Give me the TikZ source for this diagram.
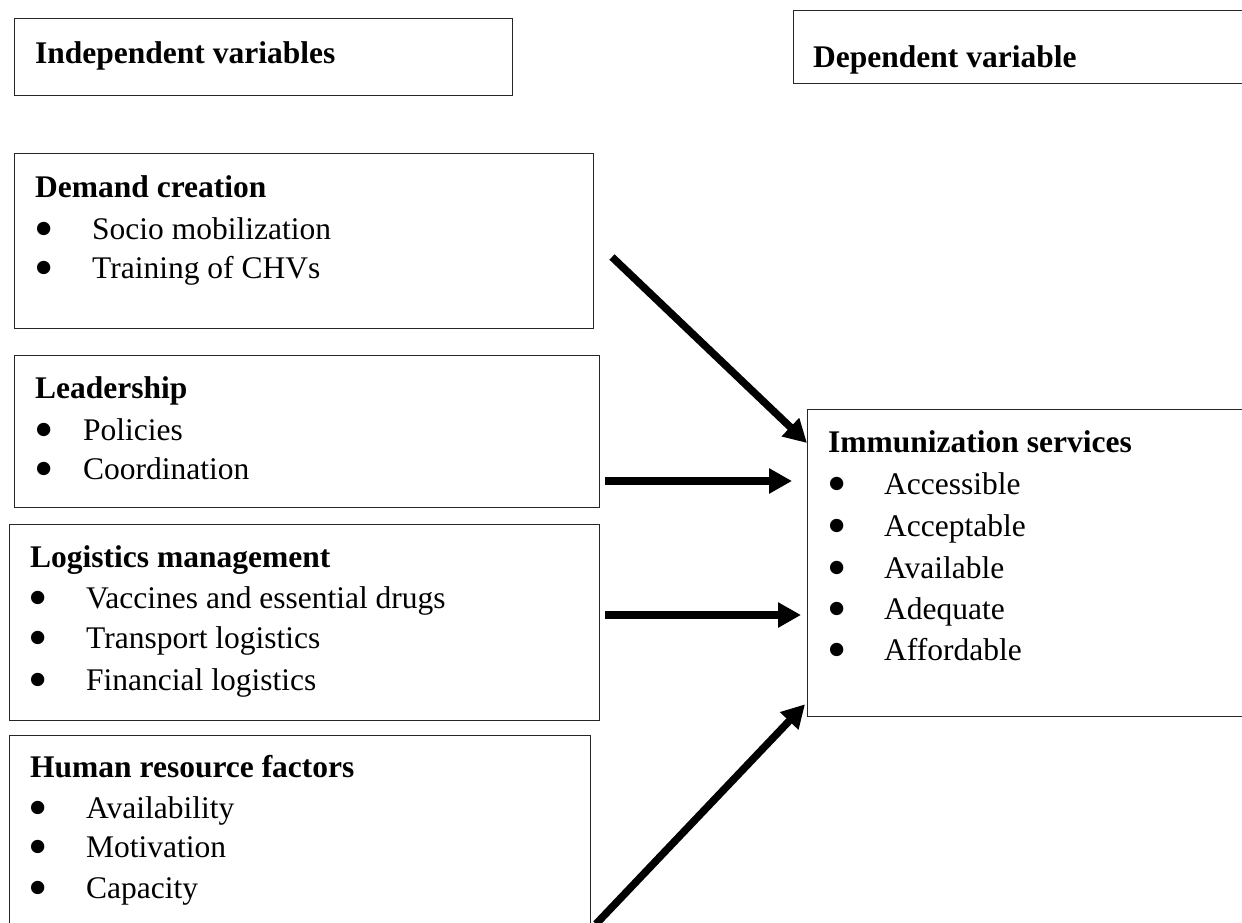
\documentclass[tikz,border=0pt]{standalone}
\usepackage{fontspec}
\setmainfont{Liberation Serif}
\newfontfamily\djv{DejaVu Sans}
\usetikzlibrary{arrows.meta,calc}
\newcommand\fsz{\fontsize{31.5}{38}\selectfont}
\newcommand\bigbul{\hspace{1pt}\raisebox{5.5pt}{\djv\fontsize{17.5}{17.5}\selectfont ●}}
\newcommand\itm[2]{\makebox[#1][l]{\bigbul}#2}
\tikzset{
  box/.style={draw=black!85, line width=1.3pt, inner sep=0pt, anchor=north west},
  txt/.style={anchor=base west, inner sep=0pt, font=\fsz},
  hd/.style={anchor=base west, inner sep=0pt, font=\fsz\bfseries},
  bigarrow/.style={line width=7.5pt, -{Triangle[length=23pt,width=24pt]}}
}
\begin{document}
\begin{tikzpicture}[x=1pt,y=-1pt]
\useasboundingbox (0,0) rectangle (1242,922);
\fill[white] (0,0) rectangle (1242,922);
\clip (0,0) rectangle (1242,922);
% header boxes
\node[box, minimum width=498pt, minimum height=77pt] (indep) at (14,18) {};
\node[hd] (indep-t) at (35,63) {Independent variables};
\node[box, minimum width=470pt, minimum height=73pt] (dep) at (793,10) {};
\node[hd] (dep-t) at (813,67) {Dependent variable};
% demand creation
\node[box, minimum width=579pt, minimum height=175pt] (dem) at (14,153) {};
\node[hd] (dem-h) at (35,197) {Demand creation};
\node[txt] (dem-1) at (35,239) {\itm{57pt}{Socio mobilization}};
\node[txt] (dem-2) at (35,278) {\itm{57pt}{Training of CHVs}};
% leadership
\node[box, minimum width=585pt, minimum height=152pt] (lead) at (14,355) {};
\node[hd] (lead-h) at (35,398) {Leadership};
\node[txt] (lead-1) at (35,440) {\itm{48pt}{Policies}};
\node[txt] (lead-2) at (35,479) {\itm{48pt}{Coordination}};
% logistics
\node[box, minimum width=590pt, minimum height=196pt] (logi) at (9,524) {};
\node[hd] (logi-h) at (30,567) {Logistics management};
\node[txt] (logi-1) at (29,608) {\itm{57pt}{Vaccines and essential drugs}};
\node[txt] (logi-2) at (29,648) {\itm{57pt}{Transport logistics}};
\node[txt] (logi-3) at (29,690) {\itm{57pt}{Financial logistics}};
% human resource
\node[box, minimum width=581pt, minimum height=215pt] (hum) at (9,735) {};
\node[hd] (hum-h) at (30,777) {Human resource factors};
\node[txt] (hum-1) at (29,818) {\itm{57pt}{Availability}};
\node[txt] (hum-2) at (29,857) {\itm{57pt}{Motivation}};
\node[txt] (hum-3) at (29,898) {\itm{57pt}{Capacity}};
% immunization services
\node[box, minimum width=456pt, minimum height=307pt] (imm) at (807,409) {};
\node[hd] (imm-h) at (828,452) {Immunization services};
\node[txt] (imm-1) at (828,494) {\itm{56pt}{Accessible}};
\node[txt] (imm-2) at (828,536) {\itm{56pt}{Acceptable}};
\node[txt] (imm-3) at (828,578) {\itm{56pt}{Available}};
\node[txt] (imm-4) at (828,619) {\itm{56pt}{Adequate}};
\node[txt] (imm-5) at (828,660) {\itm{56pt}{Affordable}};
% arrows
\coordinate (a1s) at (612,257);
\coordinate (a2s) at (605,481);
\coordinate (a3s) at (605,615);
\coordinate (a4s) at (596,924);
\draw[bigarrow] (a1s) -- ($(imm.north west)+(0,34)$);
\draw[bigarrow] (a2s) -- ($(imm.north west)+(-15,72)$);
\draw[bigarrow] (a3s) -- ($(imm.north west)+(-6,206)$);
\draw[bigarrow] (a4s) -- ($(imm.south west)+(-2,-13)$);
\end{tikzpicture}
\end{document}
